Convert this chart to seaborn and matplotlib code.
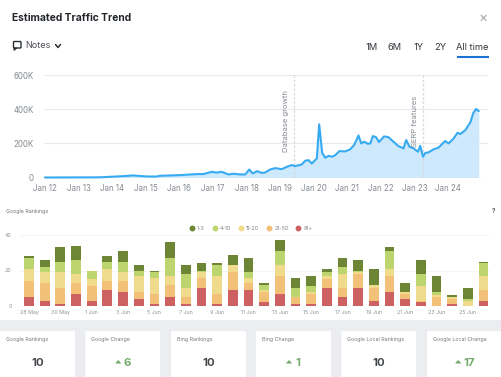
import matplotlib
matplotlib.use("Agg")
import matplotlib.pyplot as plt
import seaborn as sns
from matplotlib.lines import Line2D
from matplotlib.patches import Rectangle, FancyBboxPatch, Polygon

# ---------- data ----------
trend_years = [0,1.64,2.33,2.63,3.03,3.33,3.42,4.02,4.52,4.71,4.96,5.11,5.26,5.46,5.61,5.81,5.96,6.08,6.18,6.32,
               6.45,6.55,6.70,6.85,7.05,7.20,7.34,7.44,7.64,7.74,7.84,7.94,8.09,8.16,8.25,8.34,8.44,8.54,8.64,8.76,
               8.93,9.08,9.20,9.33,9.41,9.50,9.61,9.68,9.76,9.85,9.94,10.09,10.22,10.37,10.52,10.67,10.75,10.85,10.97,11.10,
               11.17,11.25,11.32,11.41,11.56,11.71,11.91,12.01,12.16,12.28,12.36,12.51,12.66,12.75,12.83,12.91]
trend_k = [0,1,8,12,6,6,10,14,20,20,33,29,33,18,22,18,18,47,24,37,
           27,29,47,55,49,63,73,67,76,98,102,82,112,312,145,116,127,122,131,155,
           153,165,190,247,200,210,198,200,243,237,208,241,237,210,184,171,220,180,171,151,
           186,122,145,147,165,175,214,200,229,263,255,278,324,380,402,390]
trend_ticks = ["Jan 12","Jan 13","Jan 14","Jan 15","Jan 16","Jan 17","Jan 18","Jan 19","Jan 20","Jan 21","Jan 22","Jan 23","Jan 24"]
trend_y_ticks = [0, 200, 400, 600]
trend_y_labels = ["0", "200K", "400K", "600K"]
notes_years = [7.41, 11.25]
notes_labels = ["Database growth", "SERP features"]

rank_dates = ["28 May","29 May","30 May","31 May","1 Jun","2 Jun","3 Jun","4 Jun","5 Jun","6 Jun",
              "7 Jun","8 Jun","9 Jun","10 Jun","11 Jun","12 Jun","13 Jun","14 Jun","15 Jun","16 Jun",
              "17 Jun","18 Jun","19 Jun","20 Jun","21 Jun","22 Jun","23 Jun","24 Jun","25 Jun","26 Jun"]
rank_81 = [5,3,1,7,3,9,8,4,1,5,1,10,1,9,9,2,7,1,1,10,5,10,3,8,4,2,0,1,0,3]
rank_21 = [9,10,9,6,8,5,6,4,6,7,4,6,6,10,4,6,10,4,6,5,5,8,7,9,3,1,5,3,0,6]
rank_11 = [7,6,9,5,4,7,5,9,9,5,5,3,10,4,3,1,6,0,1,2,8,1,2,4,1,8,1,1,3,8]
rank_4 = [6,3,6,8,5,4,6,3,3,10,8,1,6,0,3,3,8,5,3,2,4,1,0,10,0,7,2,0,1,7]
rank_1 = [1,4,8,8,0,3,6,3,1,9,5,4,1,6,8,1,6,6,6,2,5,6,9,2,5,8,9,1,6,1]
rank_series = [("81+", rank_81), ("21-50", rank_21), ("11-20", rank_11), ("4-10", rank_4), ("1-3", rank_1)]
rank_colors = {"1-3": "#6c8636", "4-10": "#bdd56f", "11-20": "#f0da8c", "21-50": "#f2c177", "81+": "#cd6060"}

card_titles = ["Google Rankings","Google Change","Bing Rankings","Bing Change","Google Local Rankings","Google Local Change"]
card_values = ["10","6","10","1","10","17"]
card_is_change = [False,True,False,True,False,True]

# ---------- setup ----------
sns.set_theme(style="white")
plt.rcParams["font.family"] = ["Inter", "DejaVu Sans"]
W, H = 502, 377
fig = plt.figure(figsize=(W/100, H/100), dpi=100, facecolor="white")

def rect(x0, y0, x1, y1):
    return [x0/W, 1-y1/H, (x1-x0)/W, (y1-y0)/H]

bg = fig.add_axes([0, 0, 1, 1], zorder=0)
bg.set_xlim(0, W); bg.set_ylim(H, 0); bg.axis("off")

# ---------- trend chart ----------
GRAY = "#858a91"
ax = fig.add_axes(rect(44, 75.3, 488, 177.5), zorder=2)
ax.patch.set_alpha(0)
ax.set_xlim(-1/33.6, 443/33.6)
ax.set_ylim(0, 600)
ax.fill_between(trend_years, trend_k, 0, color="#cfe9fc", lw=0, zorder=1)
sns.lineplot(x=trend_years, y=trend_k, ax=ax, color="#36abf2", lw=1.5, zorder=3, clip_on=False)
ax.set_xticks(range(len(trend_ticks)), trend_ticks)
ax.set_yticks(trend_y_ticks, trend_y_labels)
ax.tick_params(axis="both", length=0, labelsize=5.7, labelcolor=GRAY)
ax.tick_params(axis="x", pad=5)
ax.tick_params(axis="y", pad=7.5)
ax.grid(axis="y", color="#e8eaed", lw=0.8)
ax.set_axisbelow(True)
for s in ax.spines.values():
    s.set_visible(False)
for xv, lab, ybase in zip(notes_years, notes_labels, [152, 147]):
    ax.axvline(xv, color="#d5d8dc", lw=0.9, ls=(0, (2, 1.5)), zorder=2)
    fig.text((45 + xv*33.6 - 8)/W, 1-ybase/H, lab, rotation=90, ha="center", va="bottom",
             fontsize=5.5, color=GRAY, zorder=5)

# header
bg.text(12.5, 18, "Estimated Traffic Trend", fontsize=7.4, fontweight="bold", color="#22262b", va="center")
bg.text(483.5, 18, "×", fontsize=10, color="#a3a7ac", ha="center", va="center")
bg.add_patch(FancyBboxPatch((13.5, 41.5), 7.5, 6.5, boxstyle="round,pad=0,rounding_size=0.8", fill=False, ec="#2b2f34", lw=1))
bg.add_patch(Polygon([[14, 48], [14, 50.5], [17, 48]], closed=True, fc="#2b2f34", ec="#2b2f34", lw=0.6))
bg.text(25.5, 45, "Notes", fontsize=6.5, color="#4a4e54", va="center")
bg.plot([55.5, 58, 60.5], [44.5, 47.5, 44.5], color="#2b2f34", lw=1.1)
for cx, t in zip([372, 395, 418.5, 440.5, 472.5], ["1M", "6M", "1Y", "2Y", "All time"]):
    bg.text(cx, 48, t, fontsize=6.7, color="#33373c", ha="center", va="center")
bg.plot([457, 489], [56.5, 56.5], color="#1a73d4", lw=1.5, solid_capstyle="butt")

# ---------- rankings ----------
bg.text(6, 211, "Google Rankings", fontsize=3.8, color="#6f7276", va="center")
bg.text(494, 211, "?", fontsize=4.5, color="#555", ha="center", va="center", fontweight="bold")

ax2 = fig.add_axes(rect(20, 235, 490, 306), zorder=2)
ax2.patch.set_alpha(0)
bottom = [0] * len(rank_dates)
for name, vals in rank_series:
    sns.barplot(x=rank_dates, y=vals, bottom=bottom, color=rank_colors[name], saturation=1,
                width=0.62, ax=ax2, order=rank_dates, linewidth=0)
    bottom = [b + v for b, v in zip(bottom, vals)]
ax2.set_xlim((20-29)/15.67, (490-29)/15.67)
ax2.set_ylim(0, 40)
ax2.set_xticks(range(0, len(rank_dates), 2), rank_dates[::2])
ax2.set_yticks([0, 20, 40], ["0", "20", "40"])
ax2.tick_params(axis="both", length=0, labelsize=3.8, labelcolor="#8e9195")
ax2.tick_params(axis="x", pad=3)
ax2.tick_params(axis="y", pad=6)
ax2.grid(axis="y", color="#f1f2f3", lw=0.6)
ax2.set_axisbelow(True)
for s in ax2.spines.values():
    s.set_visible(False)
legend_order = ["1-3", "4-10", "11-20", "21-50", "81+"]
handles = [Line2D([], [], marker="o", ls="", ms=3.2, color=rank_colors[n], label=n) for n in legend_order]
ax2.legend(handles=handles, ncol=5, frameon=False, fontsize=3.8, labelcolor="#7c7f83",
           loc="center", bbox_to_anchor=((251-20)/470, 1+(235-228.5)/71),
           handlelength=1, handletextpad=0.45, columnspacing=1.4, borderpad=0, borderaxespad=0)

# ---------- cards ----------
bg.add_patch(Rectangle((0, 320), W, H-320, fc="#ebedf0", ec="none", zorder=0))
card_x = [(0, 75), (85.5, 160), (171, 246), (256, 331), (341.5, 416), (427, 501.5)]
for (x0, x1), title, val, chg in zip(card_x, card_titles, card_values, card_is_change):
    bg.add_patch(FancyBboxPatch((x0, 331), x1-x0, 60, boxstyle="round,pad=0,rounding_size=1.5",
                                fc="white", ec="none", zorder=1))
    bg.text(x0+6, 340, title, fontsize=3.8, color="#77797d", va="center", zorder=3)
    cx = (x0+x1)/2
    if chg:
        bg.text(cx+3.5+len(val)*0.5, 363, val, fontsize=8.2, fontweight="bold", color="#74a86c",
                ha="center", va="center", zorder=3)
        tx = cx - 3 - len(val)*1.5
        bg.add_patch(Polygon([[tx-3.2, 363.5], [tx+3.2, 363.5], [tx, 360]], closed=True, fc="#74a86c", ec="none", zorder=3))
    else:
        bg.text(cx+0.5, 363, val, fontsize=8.2, fontweight="bold", color="#44474b",
                ha="center", va="center", zorder=3)

fig.savefig("out.png", dpi=100)
